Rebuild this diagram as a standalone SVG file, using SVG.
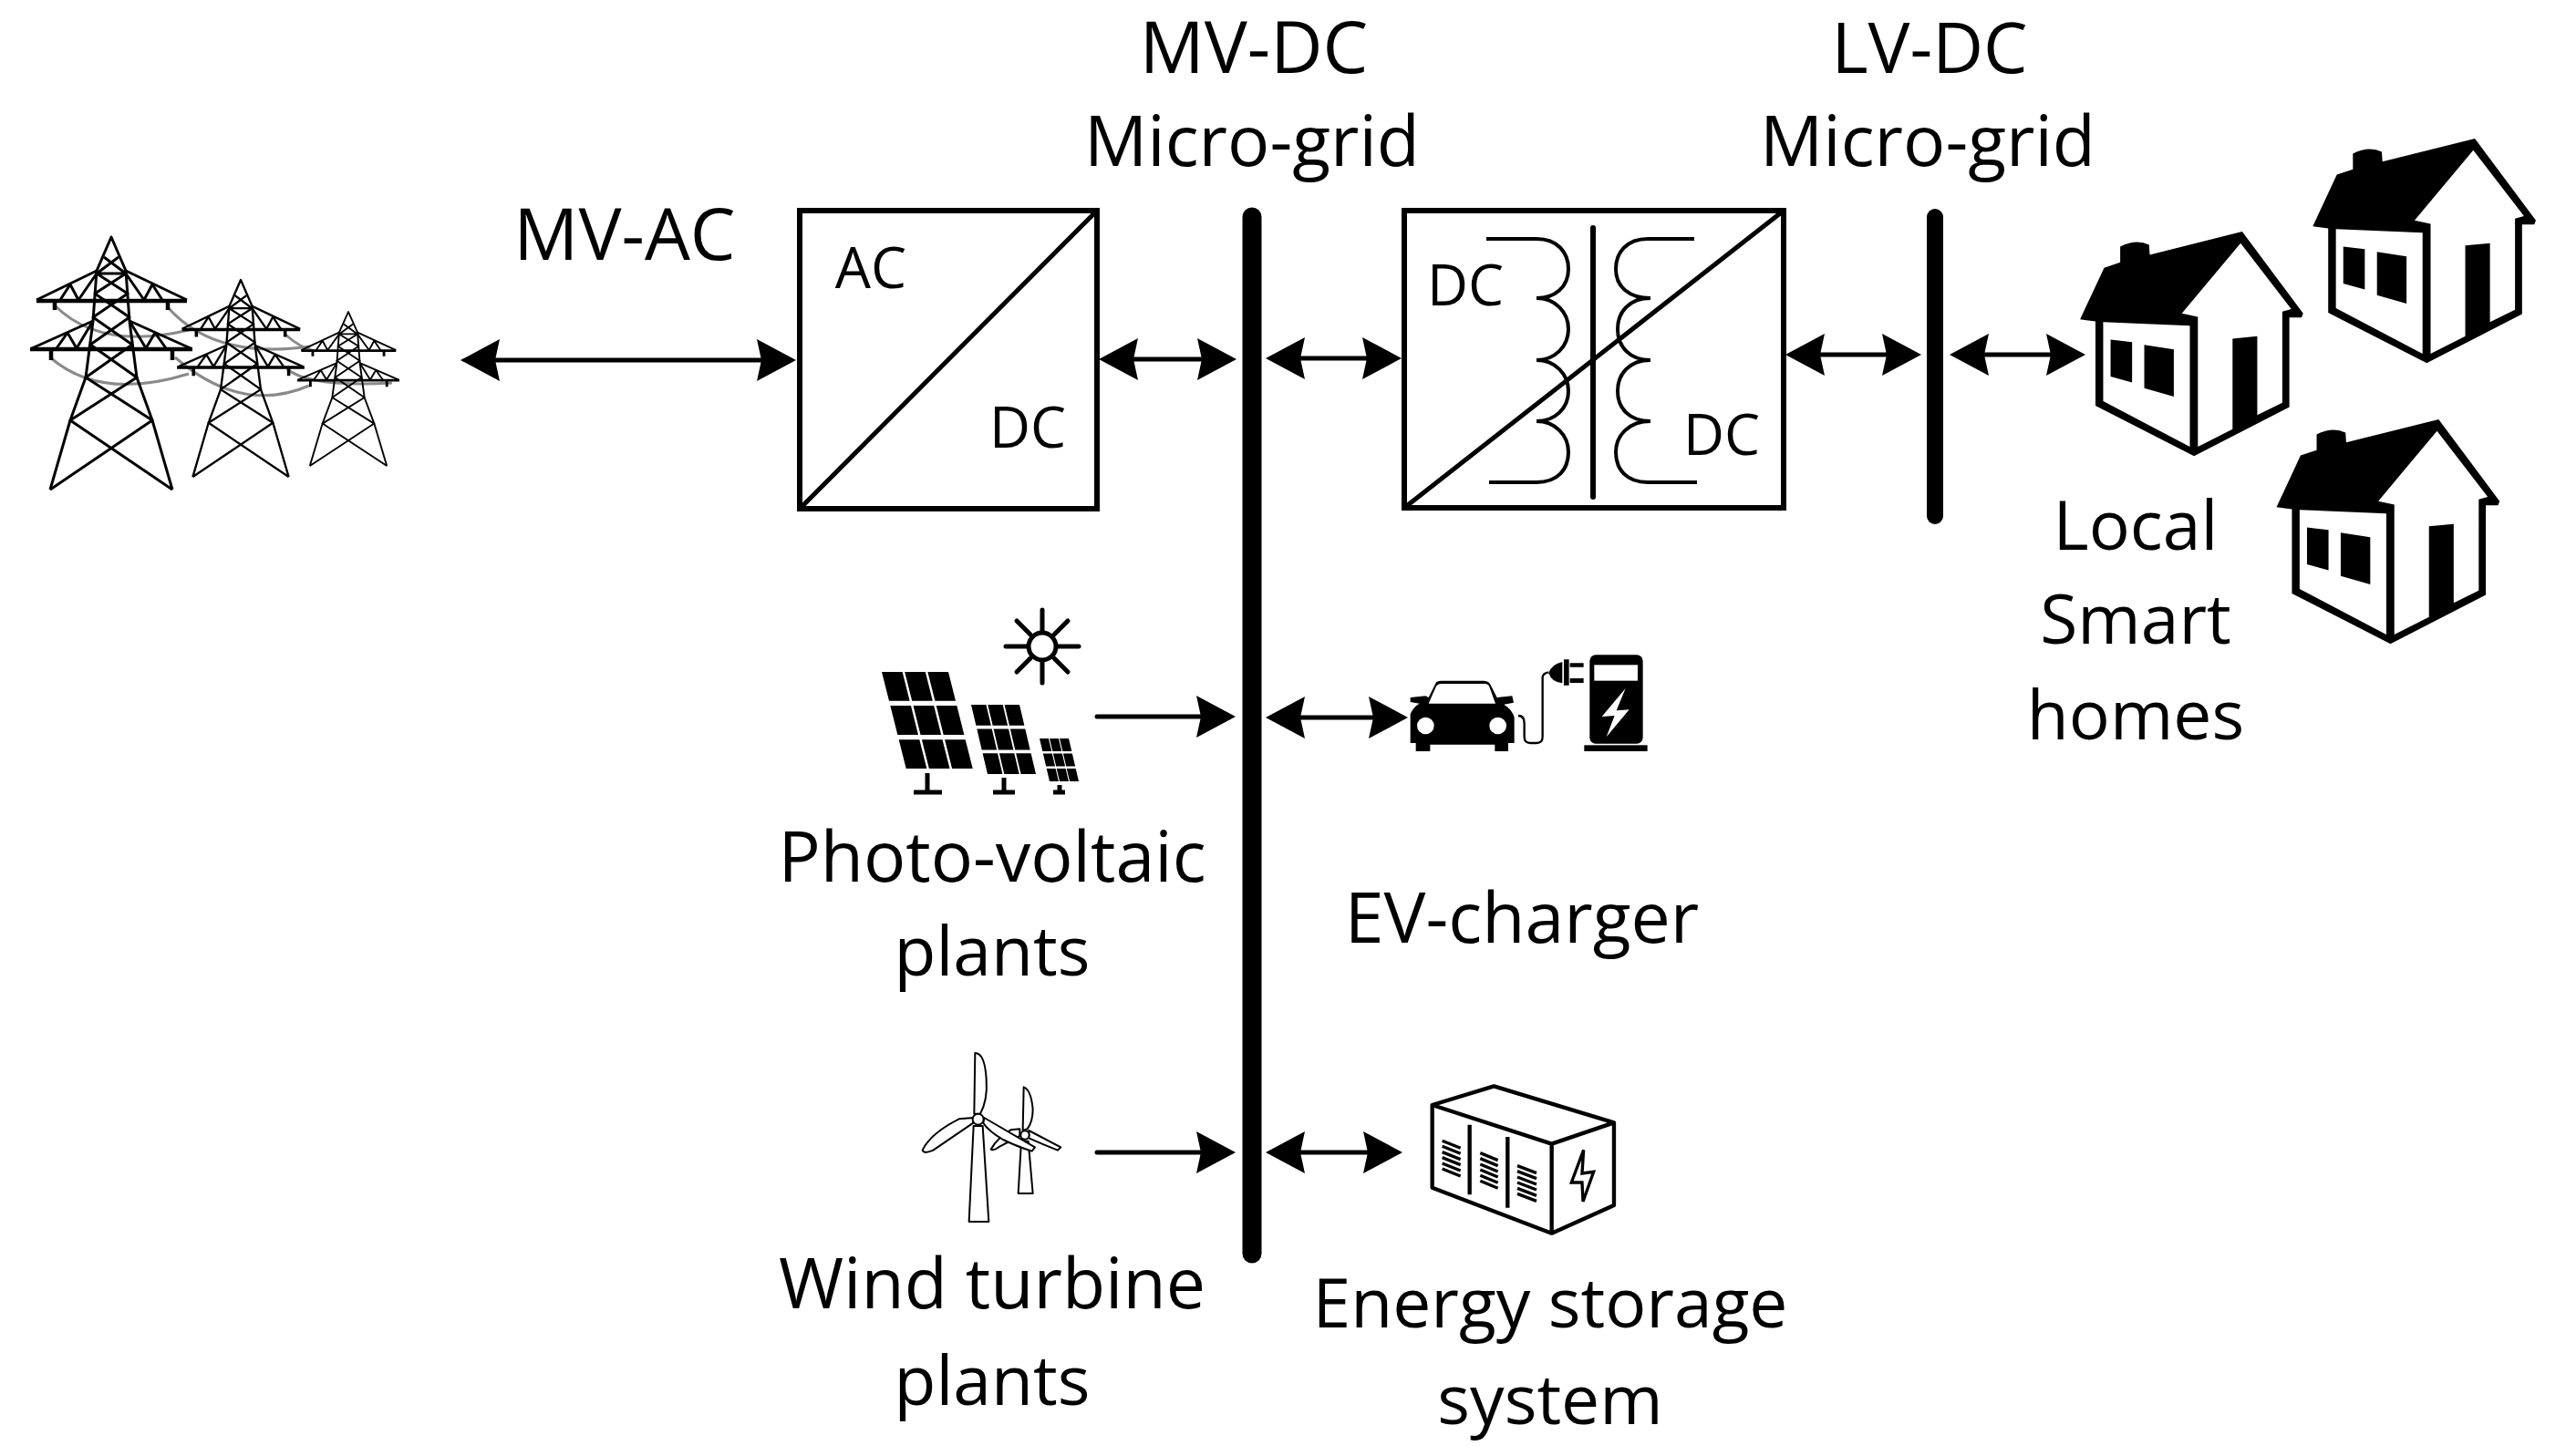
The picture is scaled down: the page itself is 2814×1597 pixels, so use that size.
<svg xmlns="http://www.w3.org/2000/svg" xmlns:xlink="http://www.w3.org/1999/xlink" width="2814" height="1597" viewBox="0 0 2814 1597">
<style>
text{font-family:"Open Sans","Noto Sans","DejaVu Sans",sans-serif;fill:#000;text-anchor:middle}
.l{font-size:77px}
.m{font-size:75px}
.c{font-size:79px}
.s{font-size:62px}
.box{fill:#fff;stroke:#000;stroke-width:6}
.thin{fill:none;stroke:#000;stroke-width:4}
.bus{stroke:#000;stroke-linecap:round;fill:none}
.a{stroke:#000;stroke-width:5;fill:none}
.ab{marker-start:url(#h);marker-end:url(#h)}
.ae{marker-end:url(#h);stroke-linecap:round}
.t{fill:none;stroke:#000;stroke-width:3;stroke-linejoin:round}
.t2{fill:none;stroke:#000;stroke-width:4.500}
.cable{fill:none;stroke:#8a8a8a;stroke-width:3}
.w{fill:#fff;stroke:#000;stroke-width:6;stroke-linejoin:round}
</style>
<defs>
<marker id="h" markerUnits="userSpaceOnUse" markerWidth="50" markerHeight="50" orient="auto-start-reverse" overflow="visible" refX="0" refY="0">
<path d="M-23,-23 L20,0 L-23,23 L-18,0 Z" fill="#000"/>
</marker>
<g id="tower">
<path class="t" d="M-67,277 L-45,201 L-28,154 L-20,92 L-16,37 L0,0 L16,37 L20,92 L28,154 L45,201 L67,277"/>
<path class="t" d="M-67,277 L45,201 L-28,154 L23,118 L-20,88 L18,62 L-16,40 L8,22 M67,277 L-45,201 L28,154 L-23,118 L20,88 L-18,62 L16,40 L-8,22 M-16,40 L16,40"/>
<path class="t2" d="M-82,70 H83 M-89,123 H89 M-62,70 V80 M62,70 V80 M-66,123 V135 M67,123 V135"/>
<path class="t" d="M-16,37 L-82,69 M16,37 L83,69 M-20,92 L-87,122 M20,92 L87,122 M-56,69 L-45,52 L-36,69 L-16,40 M56,69 L45,52 L36,69 L16,40 M-60,122 L-48,105 L-38,122 L-20,92 M60,122 L48,105 L38,122 L20,92"/>
</g>
<g id="house">
<path d="M60,572 L135,425 L185,410 L185,365 Q235,342 275,360 L277,388 L565,322 L755,555 L750,567 L712,567 L712,822 L415,962 L108,818 L108,578 Z" fill="#000"/>
<path d="M132,580 L402,590 L402,935 L132,805 Z" fill="#fff"/>
<path d="M560,355 L377,555 L427,565 L427,935 L535,885 L535,627 L612,620 L612,845 L690,810 L690,550 L718,543 Z" fill="#fff"/>
<path d="M155,630 L222,637 L222,752 L155,735 Z M260,645 L352,658 L352,792 L260,768 Z" fill="#000"/>
</g>
<g id="cells" fill="#000">
<path d="M0,0H31V30H0Z M34.500,0H65.500V30H34.500Z M69,0H100V30H69Z M0,35H31V65H0Z M34.500,35H65.500V65H34.500Z M69,35H100V65H69Z M0,70H31V100H0Z M34.500,70H65.500V100H34.500Z M69,70H100V100H69Z"/>
</g>
</defs>
<rect width="2814" height="1597" fill="#fff"/>

<g id="connectors">
<path class="a ab" d="M525,395H853"/>
<path class="a ab" d="M1225,394H1336"/>
<path class="a ab" d="M1408,393H1517"/>
<path class="a ab" d="M1978,389H2087"/>
<path class="a ab" d="M2158,389H2267"/>
<path class="a ae" d="M1203,786H1335"/>
<path class="a ab" d="M1408,787H1524"/>
<path class="a ae" d="M1203,1264H1335"/>
<path class="a ab" d="M1408,1264H1518"/>
</g>

<g id="towers">
<path class="cable" d="M60,335 Q110,385 207,362 M184,337 Q235,395 340,380 M55,392 Q110,440 207,410 M192,392 Q265,455 339,423 M313,367 Q330,382 345,385 M315,405 Q340,425 430,420"/>
<use xlink:href="#tower" href="#tower" transform="translate(122,260)"/>
<use xlink:href="#tower" href="#tower" transform="translate(264,307) scale(.785,.78)"/>
<use xlink:href="#tower" href="#tower" transform="translate(382,342) scale(.63,.61)"/>
</g>

<g id="mv-ac-label"><text class="c" x="685" y="285">MV-AC</text></g>

<g id="ac-dc-converter">
<rect class="box" x="877" y="231" width="326" height="327"/>
<path d="M877,558L1203,231" stroke="#000" stroke-width="5" fill="none"/>
<text class="s" x="955" y="316">AC</text>
<text class="s" x="1127" y="491">DC</text>
</g>

<g id="mv-dc-bus">
<path class="bus" stroke-width="21" d="M1373,238V1375"/>
<text class="c" x="1375" y="80">MV-DC</text>
<text class="l" x="1373" y="182">Micro-grid</text>
</g>

<g id="dc-dc-converter">
<rect class="box" x="1540" y="231" width="416" height="326"/>
<path class="thin" d="M1630,262H1685C1708,262 1720,277 1720,295C1720,315 1705,327 1685,327C1705,327 1720,342 1720,361C1720,380 1705,395 1685,395C1705,395 1720,410 1720,429C1720,448 1705,462 1685,462C1705,462 1720,477 1720,496C1720,515 1708,529 1685,529H1633"/>
<path class="thin" d="M1858,262H1807C1784,262 1772,277 1772,295C1772,315 1787,327 1810,327C1787,327 1774,342 1774,361C1774,380 1787,395 1810,395C1787,395 1774,410 1774,429C1774,448 1787,462 1810,462C1787,462 1772,477 1772,496C1772,515 1784,529 1807,529H1861"/>
<path d="M1747,250V545" stroke="#000" stroke-width="6" stroke-linecap="round"/>
<path d="M1540,557L1956,231" stroke="#000" stroke-width="5" fill="none"/>
<text class="s" x="1607" y="335">DC</text>
<text class="s" x="1888" y="499">DC</text>
</g>

<g id="lv-dc-bus">
<path class="bus" stroke-width="18" d="M2122,238V566"/>
<text class="l" x="2116" y="80">LV-DC</text>
<text class="l" x="2114" y="182">Micro-grid</text>
</g>

<g id="smart-homes">
<g transform="translate(2260,130) scale(.352,.385)">
<use xlink:href="#house" href="#house"/>
<use xlink:href="#house" href="#house" x="725" y="-265"/>
<use xlink:href="#house" href="#house" x="612" y="535"/>
</g>
<text class="m" x="2342" y="603">Local</text>
<text class="m" x="2342" y="706">Smart</text>
<text class="m" x="2342" y="811">homes</text>
</g>

<g id="photo-voltaic">
<g stroke="#000" stroke-width="5" fill="none">
<circle cx="1143" cy="709" r="15"/>
<path stroke-linecap="round" d="M1143,669V692M1143,726V749M1103,709H1126M1160,709H1183M1115,681L1130,696M1156,722L1171,737M1171,681L1156,696M1130,722L1115,737"/>
<path d="M1017,848V868M1002,869H1033M1101,853V868M1089,869H1113M1162,861V868M1155,869H1168"/>
</g>
<use xlink:href="#cells" href="#cells" transform="matrix(.73,0,.267,1.06,967,737)"/>
<use xlink:href="#cells" href="#cells" transform="matrix(.53,0,.18,.76,1065,773)"/>
<use xlink:href="#cells" href="#cells" transform="matrix(.32,0,.11,.47,1140,810)"/>
<text class="l" x="1088" y="967">Photo-voltaic</text>
<text class="m" x="1088" y="1070">plants</text>
</g>

<g id="ev-charger">
<g transform="translate(1530,700) scale(.3333)">
<path fill="#000" d="M50,300 L50,250 Q60,225 80,215 L50,210 L50,195 L100,190 L110,195 L135,145 Q140,140 150,140 L290,140 Q305,140 312,150 L335,195 L385,190 L390,212 L358,218 Q385,235 392,260 L392,345 L372,345 L372,372 L328,372 L328,350 L115,350 L115,372 L68,372 L68,345 L50,345 Z"/>
<path fill="#fff" d="M110,215 L135,158 Q140,150 150,150 L295,150 Q305,150 310,160 L330,215 Z"/>
<circle cx="100" cy="288" r="28" fill="#fff"/>
<circle cx="338" cy="288" r="28" fill="#fff"/>
<path fill="none" stroke="#000" stroke-width="7" d="M405,255 Q425,255 425,280 L425,325 Q425,345 445,345 L465,345 Q485,345 485,325 L485,130 Q485,115 505,112"/>
<path fill="#000" d="M505,115 Q515,85 550,78 L550,148 Q515,145 505,115Z M555,70H572V155H555Z M575,82H620V95H575Z M575,132H620V147H575Z"/>
<rect x="640" y="55" width="175" height="292" rx="20" fill="#000"/>
<rect x="655" y="88" width="143" height="52" fill="#fff"/>
<path fill="#fff" d="M758,165 L680,258 L722,255 L695,325 L770,235 L728,238 Z"/>
<rect x="622" y="352" width="208" height="20" fill="#000"/>
</g>
<text class="l" x="1669" y="1034">EV-charger</text>
</g>

<g id="wind-turbine">
<g transform="translate(980,1140) scale(.3333)">
<path class="w" d="M420,335L443,335L458,507L410,507Z"/>
<path class="w" d="M425,300 L428,157 Q452,165 458,230 Q458,270 440,295Z"/>
<path class="w" d="M415,295 L385,298 Q340,325 320,362 Q330,368 350,352 L415,318Z"/>
<path class="w" d="M445,300 L550,355 L540,365 Q490,345 445,325Z"/>
<circle class="w" cx="432" cy="315" r="14"/>
<path class="w" d="M263,285L293,285L313,600L248,600Z"/>
<path class="w" d="M265,245 L268,45 Q300,45 305,130 Q310,200 285,245Z"/>
<path class="w" d="M262,258 L215,262 Q120,310 95,365 Q100,378 130,365 L262,275Z"/>
<path class="w" d="M298,258 L465,355 L455,368 Q400,350 360,330 Q310,300 295,275Z"/>
<circle class="w" cx="278" cy="263" r="18"/>
</g>
<text class="l" x="1088" y="1435">Wind turbine</text>
<text class="m" x="1088" y="1541">plants</text>
</g>

<g id="energy-storage">
<g transform="translate(1540,1182) scale(.3333)">
<path fill="#fff" stroke="#000" stroke-width="13" stroke-linejoin="round" d="M92,90L295,28L690,148V420L485,512L92,362ZM92,90L485,218L690,148M485,218V512"/>
<path fill="none" stroke="#000" stroke-width="13" d="M215,155V385M340,195V428"/>
<g stroke="#000" stroke-width="10" fill="none">
<path d="M125,208L185,232M125,226L185,250M125,245L185,269M125,263L185,287M125,282L185,306M125,300L185,324"/>
<path d="M250,248L308,272M250,266L308,290M250,285L308,309M250,303L308,327M250,322L308,346M250,340L308,364"/>
<path d="M372,290L435,314M372,308L435,332M372,327L435,351M372,345L435,369M372,364L435,388M372,382L435,406"/>
</g>
<path fill="#fff" stroke="#000" stroke-width="10" d="M590,238L550,345L585,345L588,408L623,310L585,315Z"/>
</g>
<text class="m" x="1700" y="1456">Energy storage</text>
<text class="m" x="1700" y="1562">system</text>
</g>
</svg>
